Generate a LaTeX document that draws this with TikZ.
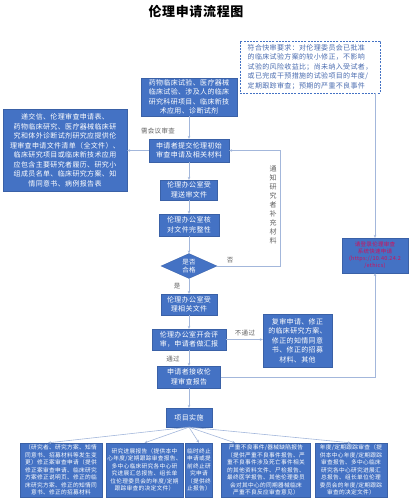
\documentclass[tikz,border=0pt]{standalone}
\usepackage{fontspec}
\setmainfont{Noto Sans CJK SC}[LetterSpace=5]
\usetikzlibrary{shapes.geometric,arrows.meta}
\definecolor{boxblue}{HTML}{4472C4}
\definecolor{linkblue}{HTML}{A3B7DB}
\definecolor{notegray}{HTML}{606060}
\definecolor{fasttext}{HTML}{4A6CB0}
\definecolor{linkred}{HTML}{D0105A}
\newcommand{\boxfont}{\fontsize{7}{9.5}\selectfont}% flow boxes
\newcommand{\smallfont}{\fontsize{5.7}{7.5}\selectfont}% bottom row

\begin{document}
\begin{tikzpicture}[x=1pt,y=-1pt,
  flowbox/.style={fill=boxblue,draw=boxblue!85!black,line width=0.3pt,text=white,align=center,inner sep=1pt,font=\boxfont},
  smallbox/.style={flowbox,font=\smallfont,minimum height=54pt},
  note/.style={text=notegray,font=\fontsize{6.5}{8}\selectfont,inner sep=1pt},
  link/.style={draw=linkblue,line width=0.6pt,-{Stealth[length=3pt,width=2.6pt]}}]
  \useasboundingbox (0,0) rectangle (409,500);
  \node[font=\fontsize{13}{15}\selectfont\bfseries] (title) at (196,12) {伦理申请流程图};
  \node[draw=boxblue,dash pattern=on 2pt off 1.2pt,line width=0.9pt,fill=white,text=fasttext,align=left,inner sep=1pt,font=\boxfont,minimum width=140pt,minimum height=52pt] (fast) at (310,67)
    {符合快审要求：对伦理委员会已批准\\的临床试验方案的较小修正，不影响\\试验的风险收益比；尚未纳入受试者，\\或已完成干预措施的试验项目的年度/\\定期跟踪审查；预期的严重不良事件};
  \node[flowbox,minimum width=96pt,minimum height=38pt] (proj) at (189,97)
    {药物临床试验、医疗器械\\临床试验、涉及人的临床\\研究科研项目、临床新技\\术应用、诊断试剂};
  \node[note] (meetnote) at (158,131) {需会议审查};
  \node[flowbox,minimum width=80pt,minimum height=23pt] (submit) at (189,150.5)
    {申请者提交伦理初始\\审查申请及相关材料};
  \node[flowbox,minimum width=124pt,minimum height=82pt] (docs) at (65,150.5)
    {递交信、伦理审查申请表、\\药物临床研究、医疗器械临床研\\究和体外诊断试剂研究应提供伦\\理审查申请文件清单（全文件）、\\临床研究项目或临床新技术应用\\应包含主要研究者履历、研究小\\组成员名单、临床研究方案、知\\情同意书、病例报告表};
  \node[flowbox,minimum width=57pt,minimum height=20pt] (accept) at (189,190) {伦理办公室受\\理送审文件};
  \node[flowbox,minimum width=60pt,minimum height=22pt] (check) at (189,225) {伦理办公室核\\对文件完整性};
  \node[flowbox,diamond,aspect=2.2,inner sep=-1.5pt,font=\fontsize{6.5}{7.5}\selectfont,minimum width=56pt,minimum height=25pt] (ok) at (189,266) {是否\\合格};
  \coordinate (turn) at (280,266);
  \node[note] (nonote) at (230,260) {否};
  \node[note,align=center,font=\fontsize{7}{9}\selectfont] (tellnote) at (273,205) {通\\知\\研\\究\\者\\补\\充\\材\\料};
  \node[note] (yesnote) at (177,286) {是};
  \node[flowbox,minimum width=56pt,minimum height=21pt] (receive) at (189,304.5) {伦理办公室受\\理相关文件};
  \node[flowbox,minimum width=74pt,minimum height=21pt] (meet) at (189,339.5) {伦理办公室开会评\\审，申请者做汇报};
  \node[note] (failnote) at (245,333) {不通过};
  \node[flowbox,minimum width=69pt,minimum height=53pt] (revise) at (297.5,340.5)
    {复审申请、修正\\的临床研究方案、\\修正的知情同意\\书、修正的招募\\材料、其他};
  \node[note] (passnote) at (173,359) {通过};
  \node[flowbox,minimum width=63pt,minimum height=22pt] (report) at (189,377) {申请者接收伦\\理审查报告};
  \node[flowbox,text=linkred,font=\fontsize{5.5}{7}\selectfont,minimum width=66pt,minimum height=35pt] (online) at (375,255.5)
    {请登录伦理审查\\系统快速申请\\(https://10.40.24.2\\/ethics)};
  \node[flowbox,minimum width=46pt,minimum height=19pt] (impl) at (189,417.5) {项目实施};
  \node[smallbox,minimum width=82pt] (b1) at (61,470)
    {（研究者、研究方案、知情\\同意书、招募材料等发生变\\更）修正案审查申请（提供\\修正案审查申请、临床研究\\方案修正说明页、修正的临\\床研究方案、修正的知情同\\意书、修正的招募材料};
  \node[smallbox,minimum width=77pt] (b2) at (144.5,470)
    {研究进展报告（提供本中\\心年度/定期跟踪审查报告、\\多中心临床研究各中心研\\究进展汇总报告、组长单\\位伦理委员会的年度/定期\\跟踪审查的决定文件）};
  \node[smallbox,minimum width=27pt] (b3) at (199,470)
    {临时终止\\申请或提\\前终止研\\究申请\\（提供终\\止报告）};
  \node[smallbox,minimum width=89pt] (b4) at (266,470)
    {严重不良事件/器械缺陷报告\\（提供严重不良事件报告、严\\重不良事件涉及死亡事件相关\\的其他资料文件、尸检报告、\\最终医学报告、其他伦理委员\\会对其中心的同期器械临床\\严重不良反应审查意见）};
  \node[smallbox,minimum width=72pt] (b5) at (351,470)
    {年度/定期跟踪审查（提\\供本中心年度/定期跟踪\\审查报告、多中心临床\\研究各中心研究进展汇\\总报告、组长单位伦理\\委员会的年度/定期跟踪\\审查的决定文件）};
  \draw[link] (proj) -- (submit);
  \draw[link] (submit.west) -- (submit.west -| docs.east);
  \draw[link] (submit) -- (accept);
  \draw[link] (accept) -- (check);
  \draw[link] (check) -- (ok);
  \draw[link] (ok.east) -- (turn) |- (submit.east);
  \draw[link] (ok) -- (receive);
  \draw[link] (receive) -- (meet);
  \draw[link] (meet) -- (revise.west |- meet);
  \draw[link] (meet) -- (report);
  \draw[link] (report) -| (online);
  \draw[link] (online.north |- fast.south) -- (online);
  \draw[link] (report) -- (impl);
  \draw[link] (impl.south) -- ([xshift=-13pt]b1.north);
  \draw[link] (impl.south) -- (b2.north);
  \draw[link] (impl.south) -- (b3.north);
  \draw[link] (impl.south) -- ([xshift=-31pt]b4.north);
  \draw[link] (impl.south) -- (b5.north);
\end{tikzpicture}
\end{document}
